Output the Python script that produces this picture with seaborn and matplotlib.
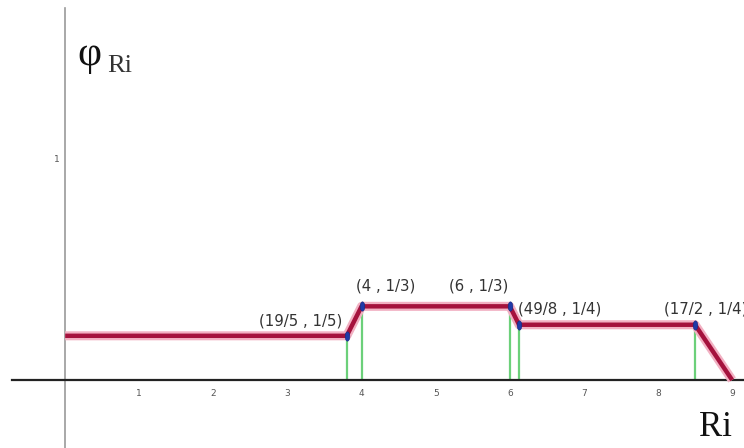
import matplotlib
matplotlib.use("Agg")
import matplotlib.pyplot as plt
import numpy as np
import pandas as pd
import seaborn as sns

# breakpoints of the piecewise function
x_vals = [0, 19 / 5, 4, 6, 49 / 8, 17 / 2, 9]
y_vals = [1 / 5, 1 / 5, 1 / 3, 1 / 3, 1 / 4, 1 / 4, 0]

# marked points (blue dots + green drop lines)
mark_x = [19 / 5, 4, 6, 49 / 8, 17 / 2]
mark_y = [1 / 5, 1 / 3, 1 / 3, 1 / 4, 1 / 4]
mark_labels = ["(19/5 , 1/5)", "(4 , 1/3)", "(6 , 1/3)", "(49/8 , 1/4)", "(17/2 , 1/4)"]

x_ticks = [1, 2, 3, 4, 5, 6, 7, 8, 9]
y_ticks = [1]

df = pd.DataFrame({"Ri": x_vals, "phi": y_vals})
marks = pd.DataFrame({"Ri": mark_x, "phi": mark_y})

sns.set_theme(style="white")

fig = plt.figure(figsize=(7.44, 4.48), dpi=100)
ax = fig.add_axes([0, 0, 1, 1])
ax.set_xlim(-65.2 / 74.1, (744 - 65.2) / 74.1)
ax.set_ylim(-68 / 221, 380 / 221)

# axes through the origin
for side in ["top", "right"]:
    ax.spines[side].set_visible(False)
ax.spines["bottom"].set_position(("data", 0))
ax.spines["left"].set_position(("data", 0))
ax.spines["bottom"].set_color("#222222")
ax.spines["bottom"].set_linewidth(1.6)
ax.spines["bottom"].set_bounds(-53 / 74.1, 9.3)
ax.spines["left"].set_color("#9a9a9a")
ax.spines["left"].set_linewidth(1.2)
ax.spines["left"].set_bounds(-0.4, 372 / 221)

ax.set_xticks(x_ticks)
ax.set_xticklabels([str(t) for t in x_ticks])
ax.set_yticks(y_ticks)
ax.set_yticklabels([str(t) for t in y_ticks])
ax.tick_params(axis="x", direction="inout", length=9, width=0.8, colors="#555555",
               labelsize=6.5, pad=2)
ax.tick_params(axis="y", direction="inout", length=6, width=0.8, colors="#555555",
               labelsize=6.5, pad=1)

# green drop lines
ax.vlines(marks["Ri"], 0, marks["phi"], color="#6cd07a", linewidth=1.6, zorder=2)

# red function line with a soft halo
sns.lineplot(data=df, x="Ri", y="phi", sort=False, ax=ax, color="#f2b0c2",
             linewidth=6.5, zorder=3, solid_capstyle="butt")
sns.lineplot(data=df, x="Ri", y="phi", sort=False, ax=ax, color="#a5123d",
             linewidth=3.2, zorder=4, solid_capstyle="butt")

# tall elliptical dot marker
t = np.linspace(0, 2 * np.pi, 30)
ellipse = np.column_stack([0.5 * np.cos(t), np.sin(t)])
sns.scatterplot(data=marks, x="Ri", y="phi", ax=ax, color="#1f3aa8", marker=ellipse,
                s=45, edgecolor="#142a80", linewidth=0.4, zorder=5)

# point labels
label_style = dict(fontsize=10.8, color="#333333", family="DejaVu Sans")
ax.text(mark_x[0] - 0.06, mark_y[0] + 0.065, mark_labels[0], ha="right", va="center", **label_style)
ax.text(mark_x[1] + 0.33, mark_y[1] + 0.09, mark_labels[1], ha="center", va="center", **label_style)
ax.text(mark_x[2] - 0.42, mark_y[2] + 0.09, mark_labels[2], ha="center", va="center", **label_style)
ax.text(mark_x[3] - 0.02, mark_y[3] + 0.07, mark_labels[3], ha="left", va="center", **label_style)
ax.text(mark_x[4] - 0.42, mark_y[4] + 0.07, mark_labels[4], ha="left", va="center", **label_style)

ax.set_xlabel("")
ax.set_ylabel("")

# axis titles
ax.text(0.17, 1.47, "φ", fontsize=30, family="Liberation Serif", color="#111111",
        ha="left", va="center")
ax.text(0.57, 1.42, "Ri", fontsize=19, family="Liberation Serif", color="#333333",
        ha="left", va="center")
ax.text(8.56, -0.215, "Ri", fontsize=25, family="Liberation Serif", color="#111111",
        ha="left", va="center")

fig.savefig("out.png", dpi=100)
